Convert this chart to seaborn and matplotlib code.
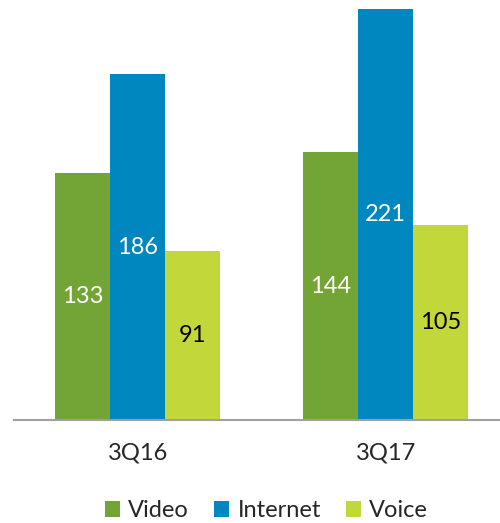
import pandas as pd
import matplotlib
matplotlib.use("Agg")
import matplotlib.pyplot as plt
import seaborn as sns

sns.set_style("white")
plt.rcParams["font.family"] = ["Lato", "DejaVu Sans"]

quarters = ["3Q16", "3Q17"]
services = ["Video", "Internet", "Voice"]
video = [133, 144]
internet = [186, 221]
voice = [91, 105]
colors = ["#72a535", "#0087c0", "#c2d73a"]
label_colors = ["white", "white", "black"]

df = pd.DataFrame({
    "quarter": quarters * 3,
    "service": ["Video"] * 2 + ["Internet"] * 2 + ["Voice"] * 2,
    "value": video + internet + voice,
})

fig = plt.figure(figsize=(5, 5.23), dpi=100)
ax = fig.add_axes([0.028, 0.197, 0.972, 0.803])
sns.barplot(data=df, x="quarter", y="value", hue="service", hue_order=services,
            palette=colors, width=0.665, saturation=1, linewidth=0, ax=ax)

for cont, lc in zip(ax.containers, label_colors):
    ax.bar_label(cont, label_type="center", color=lc, fontsize=17)

ax.set_ylim(0, 226)
ax.set_xlim(-0.498, 1.46)
ax.set_xlabel("")
ax.set_ylabel("")
ax.set_yticks([])
ax.tick_params(axis="x", length=0, labelsize=17, pad=16)
for s in ["top", "right", "left"]:
    ax.spines[s].set_visible(False)
ax.spines["bottom"].set_color("#a0a0a0")
ax.spines["bottom"].set_linewidth(1.5)

handles, labels = ax.get_legend_handles_labels()
ax.legend_.remove()
fig.legend(handles, labels, loc="center", bbox_to_anchor=(0.533, 0.024), ncol=3,
           frameon=False, fontsize=17, handlelength=0.65, handleheight=0.65,
           handletextpad=0.35, columnspacing=1.05)

fig.savefig("out.png", dpi=100)
